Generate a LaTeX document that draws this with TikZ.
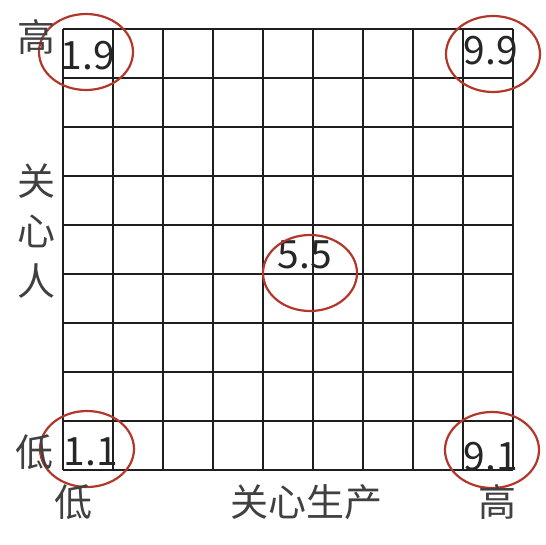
\documentclass[tikz,border=0pt]{standalone}
\usepackage{fontspec}
\setmainfont{Noto Sans CJK SC}
\usepackage{tikz}
\usetikzlibrary{shapes.geometric}

\definecolor{ringred}{HTML}{B3362B}
\definecolor{gridgray}{HTML}{1E1E1E}

\begin{document}
\begin{tikzpicture}[
    x=1pt,y=-1pt,
    gridline/.style={draw=gridgray, line width=2pt},
    ring/.style={draw=ringred, ellipse, line width=2.2pt, inner sep=0pt, minimum width=94pt, minimum height=76pt},
    score/.style={inner sep=0pt, text=black!85, font=\fontsize{39}{39}\selectfont},
    axis/.style={inner sep=0pt, text=black!75, font=\fontsize{38}{38}\selectfont}
]
    \useasboundingbox (0,0) rectangle (546,544);

    % 9x9 grid
    \foreach \i in {0,...,9} {
        \draw[gridline] (63+50*\i,29) -- (63+50*\i,470);
        \draw[gridline] (63,29+49*\i) -- (513,29+49*\i);
    }

    % corner and centre scores
    \node[score] (s19) at (88,56)  {1.9};
    \node[score] (s99) at (491,51) {9.9};
    \node[score] (s11) at (91,452) {1.1};
    \node[score] (s91) at (491,457) {9.1};
    \node[score] (s55) at (305,255) {5.5};

    \node[ring] (r19) at (86,52)   {};
    \node[ring] (r99) at (493,54)  {};
    \node[ring] (r11) at (87,449)  {};
    \node[ring] (r91) at (492,450) {};
    \node[ring] (r55) at (310,273) {};

    % axis labels
    \node[axis] (yhigh) at (36,37)   {高};
    \node[axis, align=center, font=\fontsize{38}{50}\selectfont] (ylabel) at (36,231) {关\\心\\人};
    \node[axis] (ylow)  at (34,452)  {低};
    \node[axis] (xlow)  at (73,502)  {低};
    \node[axis] (xlabel) at (306,502) {关心生产};
    \node[axis] (xhigh) at (497,502) {高};
\end{tikzpicture}
\end{document}
